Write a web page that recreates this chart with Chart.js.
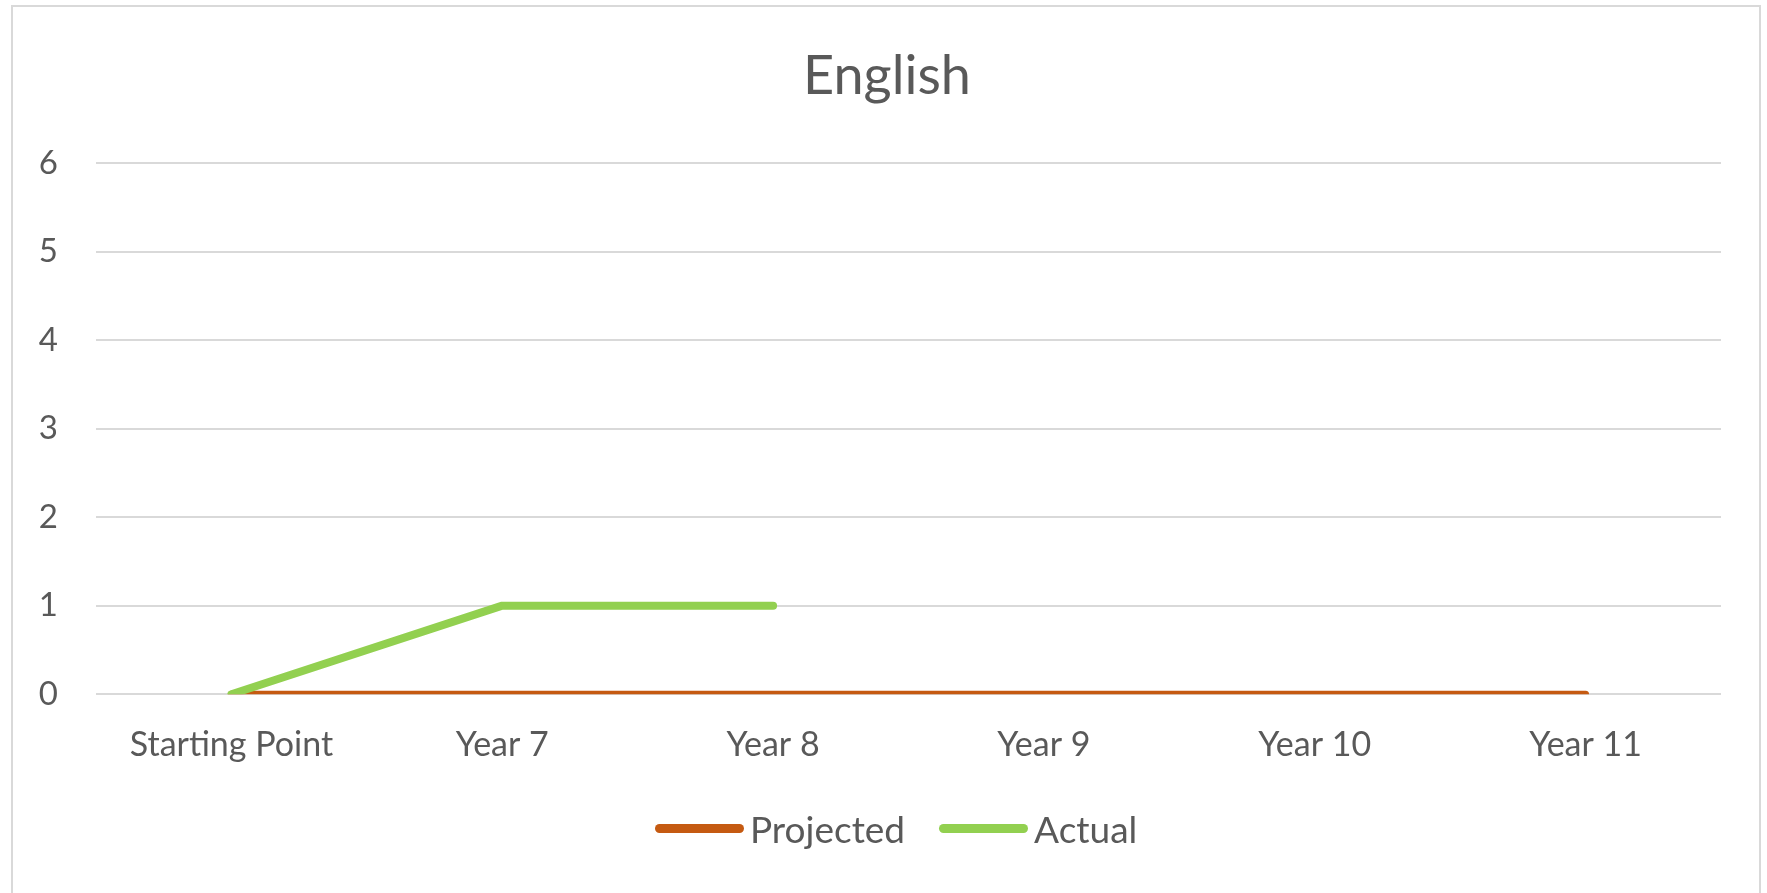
<!DOCTYPE html>
<html>
<head>
<meta charset="utf-8">
<script src="https://cdn.jsdelivr.net/npm/chart.js@4"></script>
<style>
  html, body { margin: 0; padding: 0; background: #fff; overflow: hidden; }
  #frame {
    position: absolute; left: 11px; top: 5px; width: 1746px; height: 900px;
    border: 2px solid #d9d9d9; border-bottom: none;
  }
  #wrap { position: absolute; left: 0; top: 0; width: 1767px; height: 893px; }
  #title {
    position: absolute; left: 0; top: 42px; width: 1774px; text-align: center;
    font-family: Lato, sans-serif; font-size: 54px; line-height: 1.2; color: #595959;
  }
  #legend {
    position: absolute; left: 655px; top: 806px; margin: 0; padding: 0;
    list-style: none; display: flex; align-items: center;
    font-family: Lato, sans-serif; font-size: 37px; color: #595959;
  }
</style>
</head>
<body>
<div id="frame"></div>
<div id="wrap"><canvas id="chart" width="1767" height="893"></canvas></div>
<div id="title">English</div>
<ul id="legend"></ul>
<script>
const categories = ['Starting Point', 'Year 7', 'Year 8', 'Year 9', 'Year 10', 'Year 11'];
const projected = [0, 0, 0, 0, 0, 0];
const actual = [0, 1, 1, null, null, null];
const yTicks = [0, 1, 2, 3, 4, 5, 6];

const textColor = '#595959';
const gridColor = '#d9d9d9';
const font = 'Lato, sans-serif';

const ctx = document.getElementById('chart');
const chart = new Chart(ctx, {
  type: 'line',
  data: {
    labels: categories,
    datasets: [
      {
        label: 'Projected',
        data: projected,
        borderColor: '#c55a11',
        backgroundColor: '#c55a11',
        borderWidth: 7,
        borderCapStyle: 'round',
        pointRadius: 0,
        order: 2,
      },
      {
        label: 'Actual',
        data: actual,
        borderColor: '#92d050',
        backgroundColor: '#92d050',
        borderWidth: 8,
        borderCapStyle: 'round',
        borderJoinStyle: 'round',
        pointRadius: 0,
        order: 1,
      },
    ],
  },
  options: {
    responsive: false,
    animation: false,
    layout: {
      padding: { top: 163, left: 0, right: 46, bottom: 106 },
    },
    scales: {
      x: {
        offset: true,
        grid: { display: false },
        border: { display: false },
        ticks: {
          color: textColor,
          padding: 22,
          maxRotation: 0,
          font: { family: font, size: 34 },
        },
      },
      y: {
        min: 0,
        max: 6,
        afterBuildTicks: (scale) => {
          scale.ticks = yTicks.map((v) => ({ value: v }));
        },
        afterFit: (scale) => {
          scale.width = 96;
        },
        grid: { color: gridColor, lineWidth: 2, drawTicks: false },
        border: { display: false },
        ticks: {
          color: textColor,
          padding: 38,
          font: { family: font, size: 33 },
        },
      },
    },
    plugins: {
      legend: { display: false },
      tooltip: { enabled: false },
    },
  },
});

// html legend with line swatches
const ul = document.getElementById('legend');
chart.data.datasets.forEach((ds, i) => {
  const li = document.createElement('li');
  li.style.display = 'flex';
  li.style.alignItems = 'center';
  li.style.marginRight = i === 0 ? '34px' : '0';
  const box = document.createElement('span');
  box.style.display = 'block';
  box.style.width = '89px';
  box.style.height = '9px';
  box.style.borderRadius = '5px';
  box.style.marginRight = '6px';
  box.style.background = ds.borderColor;
  const label = document.createElement('span');
  label.textContent = ds.label;
  li.appendChild(box);
  li.appendChild(label);
  ul.appendChild(li);
});
</script>
</body>
</html>
